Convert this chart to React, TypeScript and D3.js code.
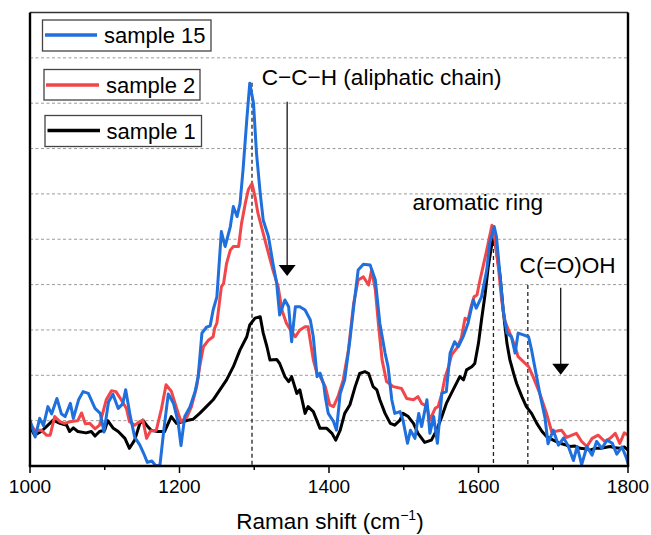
import React from "react";
import * as d3 from "d3";

// ---------- data ----------
const xTicksMajor = [1000, 1200, 1400, 1600, 1800];
const xTicksMinor = [1100, 1300, 1500, 1700];
const gridLevels = [1, 2, 3, 4, 5, 6, 7, 8, 9];

const legendLabels = ["sample 15", "sample 2", "sample 1"];

// [Raman shift (cm-1), intensity (a.u.)]
const sample1: [number, number][] = [
  [1000, 0.87], [1006, 0.68], [1015, 0.76], [1024, 0.9], [1031, 1.01], [1040, 0.94], [1049, 0.9],
  [1053, 0.76], [1058, 0.84], [1064, 0.76], [1075, 0.73], [1082, 0.76], [1087, 0.66], [1093, 0.76],
  [1100, 0.79], [1104, 1.0], [1111, 0.84], [1118, 0.76], [1127, 0.61], [1133, 0.39], [1140, 0.57],
  [1147, 0.94], [1151, 1.01], [1156, 0.9], [1162, 0.79], [1171, 0.76], [1180, 0.76], [1189, 1.09],
  [1196, 0.94], [1205, 0.98], [1211, 1.01], [1218, 1.03], [1227, 1.16], [1236, 1.31], [1245, 1.46],
  [1254, 1.68], [1263, 1.9], [1272, 2.19], [1281, 2.56], [1290, 2.85], [1294, 3.11], [1301, 3.26],
  [1308, 3.29], [1312, 2.93], [1317, 2.63], [1321, 2.34], [1330, 2.35], [1334, 2.26], [1341, 1.97],
  [1346, 1.86], [1350, 1.97], [1357, 1.6], [1361, 1.68], [1368, 1.16], [1372, 1.31], [1379, 1.2],
  [1388, 0.83], [1397, 0.83], [1404, 0.72], [1409, 0.57], [1415, 0.79], [1421, 1.16], [1428, 1.35],
  [1435, 1.75], [1441, 2.04], [1448, 2.08], [1453, 2.04], [1459, 1.75], [1464, 1.68], [1468, 1.46],
  [1475, 1.16], [1482, 0.94], [1488, 0.9], [1495, 1.01], [1499, 1.16], [1506, 1.09], [1513, 0.94],
  [1519, 0.72], [1528, 0.52], [1537, 0.57], [1544, 0.79], [1551, 1.09], [1557, 1.38], [1566, 1.68],
  [1575, 1.97], [1580, 1.9], [1584, 2.12], [1591, 2.19], [1595, 2.26], [1600, 2.71], [1604, 3.22],
  [1609, 3.81], [1613, 4.39], [1618, 4.91], [1621, 5.06], [1624, 4.76], [1629, 4.17], [1633, 3.44],
  [1638, 2.71], [1642, 2.34], [1647, 2.04], [1651, 1.82], [1658, 1.53], [1664, 1.31], [1671, 1.16],
  [1678, 0.94], [1685, 0.76], [1691, 0.65], [1700, 0.57], [1709, 0.5], [1716, 0.47], [1722, 0.43],
  [1729, 0.44], [1736, 0.39], [1742, 0.38], [1749, 0.35], [1756, 0.39], [1763, 0.39], [1769, 0.41],
  [1776, 0.43], [1783, 0.4], [1789, 0.39], [1795, 0.42], [1800, 0.35],
];

const sample2: [number, number][] = [
  [1000, 0.94], [1006, 0.79], [1015, 0.79], [1022, 0.68], [1027, 0.68], [1033, 1.09], [1040, 0.98],
  [1046, 0.94], [1055, 0.98], [1064, 1.0], [1069, 1.17], [1074, 0.93], [1080, 0.94], [1087, 0.82],
  [1093, 0.9], [1102, 1.46], [1109, 1.66], [1115, 1.64], [1122, 1.46], [1129, 1.27], [1133, 0.98],
  [1140, 0.9], [1147, 0.98], [1151, 1.01], [1156, 0.61], [1161, 0.77], [1169, 0.79], [1176, 1.27],
  [1182, 1.79], [1189, 1.65], [1196, 1.28], [1202, 0.98], [1210, 1.08], [1216, 1.31], [1223, 1.75],
  [1227, 2.19], [1232, 2.63], [1239, 2.78], [1245, 2.85], [1247, 3.04], [1250, 3.15], [1256, 3.95],
  [1259, 4.03], [1263, 4.47], [1268, 4.76], [1272, 4.84], [1279, 4.84], [1283, 5.35], [1288, 5.79],
  [1292, 6.09], [1297, 6.23], [1301, 5.94], [1305, 5.57], [1312, 5.13], [1319, 4.69], [1325, 4.32],
  [1332, 3.95], [1337, 3.44], [1343, 3.15], [1350, 2.96], [1355, 2.85], [1361, 3.0], [1368, 3.07],
  [1372, 3.07], [1379, 2.34], [1384, 2.04], [1388, 1.98], [1395, 1.75], [1401, 1.35], [1406, 1.31],
  [1412, 1.53], [1419, 1.9], [1426, 2.56], [1433, 3.59], [1439, 4.1], [1446, 4.17], [1453, 3.99],
  [1457, 4.32], [1462, 3.88], [1466, 3.15], [1471, 2.34], [1477, 1.86], [1486, 1.75], [1497, 1.71],
  [1504, 1.49], [1513, 1.46], [1519, 1.53], [1524, 1.38], [1531, 1.31], [1535, 1.01], [1542, 1.27],
  [1546, 1.31], [1551, 1.6], [1555, 1.94], [1560, 2.19], [1564, 2.45], [1571, 2.6], [1577, 2.82],
  [1582, 3.26], [1586, 3.22], [1590, 3.51], [1594, 3.73], [1598, 3.77], [1602, 4.1], [1606, 4.39],
  [1611, 4.76], [1618, 5.31], [1622, 4.98], [1627, 4.32], [1631, 3.66], [1635, 3.22], [1640, 3.0],
  [1644, 2.85], [1649, 2.63], [1653, 2.41], [1660, 2.3], [1667, 2.19], [1673, 1.97], [1682, 1.6],
  [1691, 1.16], [1698, 0.75], [1705, 0.77], [1711, 0.79], [1718, 0.63], [1725, 0.68], [1731, 0.72],
  [1738, 0.54], [1745, 0.43], [1752, 0.61], [1760, 0.68], [1769, 0.54], [1776, 0.61], [1783, 0.72],
  [1789, 0.5], [1795, 0.73], [1800, 0.68],
];

const sample15: [number, number][] = [
  [1000, 1.01], [1007, 0.64], [1013, 1.05], [1018, 0.89], [1024, 1.31], [1029, 1.15], [1036, 1.49],
  [1042, 1.15], [1047, 1.09], [1054, 1.38], [1058, 1.05], [1065, 1.46], [1071, 1.64], [1078, 1.6],
  [1087, 1.27], [1094, 1.16], [1099, 0.75], [1105, 1.41], [1111, 1.58], [1118, 1.27], [1124, 1.37],
  [1128, 1.68], [1134, 1.11], [1140, 0.64], [1147, 0.46], [1152, 0.28], [1157, 0.08], [1163, 0.11],
  [1169, -0.01], [1174, 0.04], [1179, 0.79], [1185, 1.59], [1192, 1.38], [1198, 0.98], [1202, 0.45],
  [1207, 1.09], [1214, 1.3], [1221, 1.65], [1225, 1.97], [1230, 2.93], [1236, 3.06], [1241, 3.09],
  [1245, 3.44], [1250, 3.73], [1256, 5.17], [1261, 4.84], [1268, 5.28], [1272, 5.72], [1277, 5.5],
  [1281, 5.79], [1285, 6.53], [1290, 7.63], [1294, 8.44], [1299, 8.0], [1303, 6.9], [1308, 6.01],
  [1312, 5.42], [1319, 5.06], [1325, 4.47], [1330, 4.03], [1334, 3.33], [1341, 3.66], [1346, 3.51],
  [1350, 2.74], [1355, 3.51], [1361, 3.51], [1368, 3.44], [1375, 3.22], [1379, 2.85], [1384, 1.97],
  [1388, 2.05], [1393, 1.79], [1395, 1.53], [1399, 1.16], [1406, 0.98], [1410, 0.79], [1415, 1.6],
  [1421, 1.9], [1428, 2.78], [1433, 3.51], [1439, 4.32], [1446, 4.45], [1455, 4.43], [1462, 4.1],
  [1468, 3.15], [1475, 2.49], [1479, 2.19], [1484, 1.46], [1488, 1.16], [1495, 1.2], [1499, 1.01],
  [1505, 0.5], [1509, 0.79], [1515, 0.61], [1520, 1.16], [1524, 0.87], [1531, 1.46], [1535, 0.72],
  [1540, 1.09], [1545, 0.5], [1551, 1.6], [1557, 1.64], [1562, 2.49], [1568, 2.74], [1573, 2.63],
  [1580, 2.87], [1586, 3.15], [1593, 3.66], [1597, 3.48], [1604, 3.73], [1611, 4.32], [1615, 4.91],
  [1621, 5.28], [1624, 5.06], [1629, 4.17], [1633, 3.44], [1638, 2.93], [1644, 2.85], [1649, 2.49],
  [1653, 2.93], [1660, 2.89], [1667, 2.85], [1671, 2.56], [1676, 2.12], [1682, 1.6], [1689, 1.06],
  [1693, 0.49], [1700, 0.79], [1707, 0.46], [1714, 0.62], [1720, 0.44], [1727, 0.12], [1732, 0.43],
  [1738, 0.03], [1745, 0.43], [1752, 0.24], [1758, 0.54], [1765, 0.39], [1772, 0.57], [1779, 0.5],
  [1785, 0.26], [1792, 0.42], [1798, 0.17], [1800, 0.06],
];

// dashed peak markers: [wavenumber, top intensity]
const peakMarkers: [number, number][] = [
  [1297, 8.45],
  [1620, 5.25],
  [1666, 3.99],
];

// annotation arrows: [wavenumber, start intensity, tip intensity]
const arrows: [number, number, number][] = [
  [1344, 8.03, 4.19],
  [1710, 3.93, 2.01],
];

// annotation labels: [text, wavenumber, intensity, anchor]
const labels: [string, number, number, string][] = [
  ["C\u2212C\u2212H (aliphatic chain)", 1310, 8.4, "start"],
  ["aromatic ring", 1599, 5.65, "middle"],
  ["C(=O)OH", 1655, 4.26, "start"],
];

// ---------- layout ----------
const W = 651;
const H = 535;
const X0 = 30;
const X1 = 628;
const Y0 = 466;
const Y1 = 12.5;
const FONT = "Arial, 'Liberation Sans', Helvetica, sans-serif";
const COLORS = { s15: "#1f6fdc", s2: "#f2474a", s1: "#000000" };

export default function App() {
  const x = d3.scaleLinear().domain([1000, 1800]).range([X0, X1]);
  const y = d3.scaleLinear().domain([0, 10]).range([Y0, Y1]);
  const line = d3
    .line<[number, number]>()
    .x((d) => x(d[0]))
    .y((d) => y(d[1]));

  const series = [
    { data: sample1, color: COLORS.s1 },
    { data: sample2, color: COLORS.s2 },
    { data: sample15, color: COLORS.s15 },
  ];

  const legend = [
    { label: legendLabels[0], color: COLORS.s15, bx: 42.5, by: 20, bw: 168.5, bh: 31, lx: 45, lx2: 97, ly: 35, tx: 104, ty: 43 },
    { label: legendLabels[1], color: COLORS.s2, bx: 44, by: 69.5, bw: 156, bh: 30.5, lx: 46, lx2: 99, ly: 85, tx: 106, ty: 93 },
    { label: legendLabels[2], color: COLORS.s1, bx: 45, by: 115.5, bw: 156.5, bh: 31, lx: 47.5, lx2: 100, ly: 130.5, tx: 106.5, ty: 138.5 },
  ];

  return (
    <div style={{ position: "absolute", left: 0, top: 0 }}>
      <svg width={W} height={H} viewBox={`0 0 ${W} ${H}`} style={{ display: "block", background: "#fff" }}>
        <defs>
          <clipPath id="plotClip">
            <rect x={X0} y={Y1} width={X1 - X0} height={Y0 - Y1} />
          </clipPath>
        </defs>
        <rect x={0} y={0} width={W} height={H} fill="#fff" />

        {/* grid */}
        {gridLevels.map((g) => (
          <line
            key={"g" + g}
            x1={X0}
            x2={X1}
            y1={y(g)}
            y2={y(g)}
            stroke="#9a9a9a"
            strokeWidth={1}
            strokeDasharray="3,2.5"
          />
        ))}

        {/* peak markers */}
        {peakMarkers.map(([wn, top]) => (
          <line
            key={"p" + wn}
            x1={x(wn)}
            x2={x(wn)}
            y1={y(top)}
            y2={Y0}
            stroke="#222"
            strokeWidth={1.3}
            strokeDasharray="4,3"
          />
        ))}

        {/* series */}
        <g clipPath="url(#plotClip)">
          {series.map((s, i) => (
            <path
              key={"s" + i}
              d={line(s.data) || ""}
              fill="none"
              stroke={s.color}
              strokeWidth={3}
              strokeLinejoin="round"
              strokeLinecap="round"
            />
          ))}
        </g>

        {/* arrows */}
        {arrows.map(([wn, from, tip]) => {
          const ax = x(wn);
          const ty = y(tip);
          return (
            <g key={"a" + wn}>
              <line x1={ax} x2={ax} y1={y(from)} y2={ty - 10} stroke="#000" strokeWidth={1.2} />
              <path d={`M${ax - 8.5},${ty - 11} L${ax + 8.5},${ty - 11} L${ax},${ty} Z`} fill="#000" />
            </g>
          );
        })}

        {/* labels */}
        {labels.map(([t, wn, v, anchor]) => (
          <text key={t} x={x(wn)} y={y(v)} fontFamily={FONT} fontSize={22.6} fill="#000" textAnchor={anchor}>
            {t}
          </text>
        ))}

        {/* frame */}
        <line x1={X0} x2={X1} y1={Y1} y2={Y1} stroke="#333" strokeWidth={1.6} />
        <line x1={X1} x2={X1} y1={Y1} y2={Y0} stroke="#000" strokeWidth={2.4} />
        <line x1={X0} x2={X0} y1={Y1} y2={Y0} stroke="#000" strokeWidth={2.4} />
        <line x1={X0 - 1.2} x2={X1 + 1.2} y1={Y0} y2={Y0} stroke="#000" strokeWidth={2.4} />

        {/* x ticks */}
        {xTicksMajor.map((t) => (
          <g key={"t" + t}>
            <line x1={x(t)} x2={x(t)} y1={Y0} y2={Y0 + 7} stroke="#000" strokeWidth={1.5} />
            <text x={x(t)} y={Y0 + 27} fontFamily={FONT} fontSize={19} textAnchor="middle" fill="#000">
              {t}
            </text>
          </g>
        ))}
        {xTicksMinor.map((t) => (
          <line key={"m" + t} x1={x(t)} x2={x(t)} y1={Y0} y2={Y0 + 4} stroke="#000" strokeWidth={1.5} />
        ))}

        {/* axis title */}
        <text x={(X0 + X1) / 2 + 1} y={529} fontFamily={FONT} fontSize={22.5} textAnchor="middle" fill="#000">
          Raman shift (cm
          <tspan fontSize={14} dy={-9}>
            −1
          </tspan>
          <tspan dy={9}>)</tspan>
        </text>

        {/* legend */}
        {legend.map((l) => (
          <g key={l.label}>
            <rect x={l.bx} y={l.by} width={l.bw} height={l.bh} fill="#fff" stroke="#444" strokeWidth={1.3} />
            <line x1={l.lx} x2={l.lx2} y1={l.ly} y2={l.ly} stroke={l.color} strokeWidth={3.5} />
            <text x={l.tx} y={l.ty} fontFamily={FONT} fontSize={22} fill="#000">
              {l.label}
            </text>
          </g>
        ))}
      </svg>
    </div>
  );
}
